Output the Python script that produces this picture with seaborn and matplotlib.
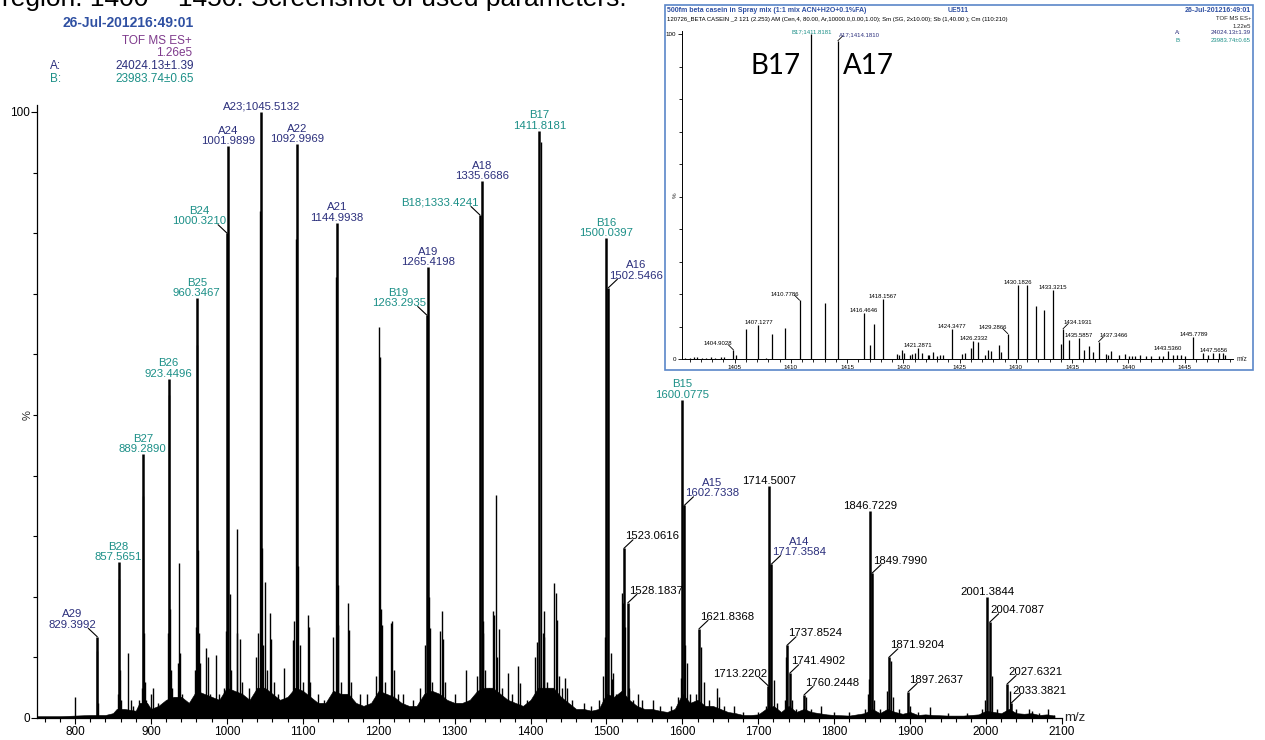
import numpy as np
import pandas as pd
import matplotlib
matplotlib.use('Agg')
import matplotlib.pyplot as plt
import seaborn as sns
from matplotlib.patches import Rectangle
from matplotlib.ticker import MultipleLocator

# ---------------- main spectrum (m/z, relative intensity %) ----------------
main_mz = [800.0, 828.9, 830.4, 856.9, 858.5, 859.5, 860.6, 870.0, 873.5, 876.0,
           885.0, 888.4, 890.2, 891.1, 892.2, 894.0, 900.3, 903.0, 910.0, 918.0,
           922.6, 924.3, 925.2, 926.2, 927.3, 935.2, 937.4, 939.0, 941.0, 943.5,
           957.5, 959.3, 961.2, 962.5, 963.5, 965.0, 973.0, 974.7, 978.0, 986.0,
           990.0, 996.0, 999.0, 1004.2, 1006.0, 1013.0, 1014.0, 1018.0, 1020.0, 1029.0,
           1039.0, 1041.5, 1043.3, 1046.6, 1048.0, 1050.0, 1053.0, 1057.0, 1058.5, 1062.0,
           1068.0, 1075.0, 1080.0, 1087.0, 1089.0, 1090.8, 1094.0, 1096.0, 1100.0, 1106.5,
           1108.0, 1110.0, 1120.0, 1128.0, 1140.0, 1143.2, 1146.0, 1147.0, 1150.0, 1159.0,
           1161.0, 1164.0, 1175.0, 1184.0, 1197.0, 1200.3, 1201.3, 1202.5, 1205.0, 1208.0,
           1216.0, 1218.0, 1220.0, 1225.0, 1232.0, 1245.0, 1255.0, 1261.0, 1266.5, 1267.6,
           1270.0, 1275.0, 1281.0, 1283.0, 1285.0, 1288.0, 1300.0, 1315.0, 1325.0, 1330.0,
           1336.8, 1338.0, 1340.0, 1345.0, 1351.0, 1352.3, 1355.0, 1356.5, 1359.0, 1362.0,
           1371.0, 1375.0, 1383.0, 1386.0, 1395.0, 1406.0, 1409.0, 1414.2, 1416.5, 1417.3,
           1418.2, 1422.0, 1430.5, 1433.0, 1435.0, 1438.0, 1441.0, 1446.0, 1447.5, 1455.0,
           1470.0, 1480.0, 1490.0, 1496.0, 1498.5, 1505.5, 1507.3, 1509.0, 1512.0, 1518.0,
           1520.0, 1521.2, 1525.0, 1530.0, 1535.0, 1541.0, 1547.0, 1561.0, 1570.0, 1585.0,
           1594.0, 1598.2, 1604.0, 1606.0, 1610.0, 1618.0, 1624.0, 1628.0, 1635.0, 1645.0,
           1648.0, 1655.0, 1668.0, 1680.0, 1700.0, 1710.0, 1720.5, 1725.0, 1735.0, 1736.6,
           1745.0, 1750.0, 1763.0, 1770.0, 1783.0, 1800.0, 1820.0, 1840.0, 1844.0, 1845.2,
           1853.0, 1860.0, 1869.8, 1874.5, 1877.0, 1885.0, 1900.0, 1910.0, 1925.6, 1950.0,
           1975.0, 1995.0, 1998.0, 2007.5, 2015.0, 2031.0, 2040.0, 2056.0, 2060.0, 2070.0,
           2082.0, 2090.0]
main_int = [3.5, 11.0, 2.5, 4.0, 23.0, 8.0, 3.0, 10.7, 3.0, 2.0,
            3.0, 5.0, 36.6, 14.0, 6.0, 3.0, 4.0, 5.0, 2.5, 2.5,
            14.0, 53.3, 18.0, 8.0, 5.0, 9.0, 25.6, 10.8, 4.0, 3.0,
            8.0, 15.0, 61.5, 27.7, 14.0, 9.0, 11.5, 10.0, 4.0, 10.4,
            4.0, 5.0, 14.4, 20.4, 8.0, 14.0, 31.2, 13.0, 6.0, 5.0,
            10.0, 14.0, 83.7, 28.0, 12.0, 22.4, 8.0, 17.3, 13.0, 6.0,
            4.0, 8.3, 3.0, 12.8, 16.0, 79.0, 25.0, 12.0, 6.0, 17.0,
            15.0, 6.0, 4.0, 3.0, 13.4, 72.8, 22.0, 15.3, 6.0, 19.0,
            14.5, 6.0, 4.0, 4.0, 7.0, 64.5, 59.6, 18.0, 15.4, 6.0,
            15.6, 16.0, 8.0, 4.0, 4.0, 3.0, 5.0, 12.0, 20.0, 14.8,
            6.0, 4.0, 14.3, 17.6, 13.0, 6.0, 4.0, 8.0, 3.0, 7.0,
            14.0, 16.0, 8.0, 5.0, 17.7, 17.0, 36.8, 10.0, 14.7, 5.0,
            7.5, 4.0, 8.5, 5.7, 3.0, 10.0, 12.5, 95.0, 14.0, 13.3,
            17.6, 6.0, 22.3, 20.6, 16.2, 7.0, 5.0, 6.6, 5.0, 3.0,
            2.5, 2.0, 3.0, 7.0, 13.4, 10.7, 6.5, 7.5, 4.0, 4.0,
            20.6, 19.0, 15.0, 5.0, 3.0, 4.0, 3.0, 3.0, 2.0, 2.0,
            3.5, 6.6, 12.0, 9.0, 4.0, 4.0, 11.7, 6.0, 3.0, 5.0,
            3.5, 2.0, 2.0, 1.0, 1.0, 2.0, 6.3, 2.5, 3.0, 10.0,
            3.0, 1.5, 3.5, 1.5, 2.0, 1.0, 1.0, 1.5, 4.0, 6.5,
            3.0, 1.5, 4.4, 9.4, 3.5, 1.5, 2.0, 1.0, 1.8, 0.8,
            0.8, 1.5, 3.0, 7.0, 1.5, 4.5, 1.5, 1.5, 1.2, 0.8,
            1.5, 0.5]

# dense low-level background (envelope)
grass_mz = [750, 780, 800, 820, 840, 850, 855, 865, 880, 885, 895, 900, 910, 920, 930,
            940, 950, 960, 970, 980, 990, 1000, 1010, 1020, 1030, 1040, 1050, 1060, 1070,
            1080, 1090, 1100, 1110, 1120, 1130, 1140, 1150, 1160, 1170, 1180, 1190, 1200,
            1210, 1220, 1230, 1240, 1250, 1260, 1270, 1280, 1290, 1300, 1310, 1320, 1330,
            1340, 1350, 1360, 1370, 1380, 1390, 1400, 1410, 1420, 1430, 1440, 1450, 1460,
            1470, 1480, 1490, 1500, 1510, 1520, 1530, 1540, 1550, 1560, 1570, 1580, 1590,
            1600, 1610, 1620, 1630, 1640, 1650, 1660, 1670, 1680, 1690, 1700, 1710, 1720,
            1730, 1740, 1750, 1760, 1770, 1780, 1790, 1800, 1820, 1840, 1850, 1860, 1870,
            1880, 1890, 1900, 1910, 1920, 1930, 1950, 1970, 1990, 2000, 2010, 2020, 2030,
            2040, 2050, 2060, 2070, 2080, 2090]
grass_int = [0.3, 0.3, 0.4, 0.5, 0.5, 0.8, 1.5, 1.5, 1.2, 2.5, 2.5, 1.5, 2.0, 3.0, 3.5,
             3.5, 2.5, 4.5, 4.0, 3.5, 3.0, 5.0, 4.5, 4.0, 3.0, 5.0, 5.0, 4.0, 3.0,
             3.5, 5.0, 4.5, 3.5, 2.5, 2.5, 4.5, 4.0, 4.0, 2.5, 2.0, 2.5, 4.5,
             4.0, 3.5, 2.5, 2.0, 2.0, 4.0, 4.5, 4.0, 3.0, 2.5, 2.5, 3.0, 4.5,
             5.0, 5.0, 4.0, 3.0, 2.5, 2.0, 3.0, 5.0, 5.0, 5.0, 3.5, 2.5, 1.5,
             1.5, 1.2, 1.5, 4.0, 3.5, 4.5, 3.0, 2.0, 1.5, 1.5, 1.2, 1.0, 1.5,
             4.0, 2.5, 3.0, 2.0, 2.0, 1.5, 1.0, 0.8, 0.5, 0.5, 0.6, 1.5, 2.0,
             1.0, 2.0, 1.0, 1.5, 1.0, 0.8, 0.6, 0.5, 0.4, 0.8, 1.5, 0.8, 1.5,
             1.0, 0.7, 1.0, 0.5, 0.6, 0.5, 0.4, 0.4, 0.6, 1.2, 1.0, 0.8, 1.5,
             0.8, 0.7, 0.8, 0.5, 0.6, 0.4]

# labelled peaks of the main spectrum
lab_mz = [829.3992, 857.5651, 889.2890, 923.4496, 960.3467, 1000.3210, 1001.9899,
          1045.5132, 1092.9969, 1144.9938, 1263.2935, 1265.4198, 1333.4241, 1335.6686,
          1411.8181, 1500.0397, 1502.5466, 1523.0616, 1528.1837, 1600.0775, 1602.7338,
          1621.8368, 1713.2202, 1714.5007, 1717.3584, 1737.8524, 1741.4902, 1760.2448,
          1846.7229, 1849.7990, 1871.9204, 1897.2637, 2001.3844, 2004.7087, 2027.6321,
          2033.3821]
lab_int = [13.4, 25.7, 43.5, 56.0, 69.3, 80.0, 94.4,
           100.0, 94.7, 81.7, 66.5, 74.4, 83.0, 88.6,
           96.9, 79.2, 71.0, 28.0, 19.0, 52.5, 35.1,
           14.7, 5.3, 38.3, 25.4, 12.0, 7.4, 3.8,
           34.2, 23.9, 10.0, 4.3, 20.0, 15.8, 5.6,
           2.5]
lab_text = ['A29\n829.3992', 'B28\n857.5651', 'B27\n889.2890', 'B26\n923.4496',
            'B25\n960.3467', 'B24\n1000.3210', 'A24\n1001.9899', 'A23;1045.5132',
            'A22\n1092.9969', 'A21\n1144.9938', 'B19\n1263.2935', 'A19\n1265.4198',
            'B18;1333.4241', 'A18\n1335.6686', 'B17\n1411.8181', 'B16\n1500.0397',
            'A16\n1502.5466', '1523.0616', '1528.1837', 'B15\n1600.0775',
            'A15\n1602.7338', '1621.8368', '1713.2202', '1714.5007', 'A14\n1717.3584',
            '1737.8524', '1741.4902', '1760.2448', '1846.7229', '1849.7990',
            '1871.9204', '1897.2637', '2001.3844', '2004.7087', '2027.6321', '2033.3821']
lab_side = ['left', 'up', 'up', 'up', 'up', 'left', 'up', 'up', 'up', 'up', 'left', 'up',
            'left', 'up', 'up', 'up', 'right', 'right', 'right', 'up', 'right', 'right',
            'left', 'up', 'right', 'right', 'right', 'right', 'up', 'right', 'right',
            'right', 'up', 'right', 'right', 'right']

# ---------------- inset: zoom 1400-1450 ----------------
ins_mz = [1400.6, 1401.0, 1401.4, 1401.7, 1402.1, 1402.5, 1402.9, 1403.3, 1403.8, 1404.1,
          1404.9028, 1405.17, 1406.0, 1407.1277, 1407.8, 1408.37, 1409.47, 1410.7786,
          1411.8181, 1413.08, 1414.1810, 1416.4646, 1417.03, 1417.37, 1418.1567,
          1419.4, 1419.6, 1419.9, 1420.1, 1420.57, 1420.8, 1421.0, 1421.2871, 1421.7,
          1422.2, 1422.3, 1422.66, 1423.0, 1423.3, 1423.56, 1424.3477, 1425.24, 1425.48,
          1426.0, 1426.2332, 1426.6, 1427.23, 1427.5, 1427.78, 1428.54, 1428.7,
          1429.2866, 1430.1826, 1431.01, 1431.8, 1432.46, 1433.3215, 1434.04, 1434.1931,
          1434.76, 1435.5857, 1436.1, 1436.5, 1436.86, 1437.3466, 1437.99, 1438.23,
          1438.47, 1439.19, 1439.7, 1440.05, 1440.3, 1440.57, 1441.0, 1441.6, 1442.0,
          1442.7, 1443.04, 1443.5360, 1444.0, 1444.35, 1444.66, 1445.0, 1445.7789,
          1446.65, 1447.06, 1447.5656, 1448.09, 1448.37, 1448.57]
ins_int = [0.4, 0.3, 0.6, 0.5, 0.4, 0.4, 0.5, 0.4, 0.5, 0.6,
           2.8, 1.3, 9.3, 10.6, 0.3, 7.8, 9.5, 18.1,
           100.0, 17.1, 98.0, 14.1, 4.3, 10.8, 18.6,
           1.6, 1.1, 2.8, 2.0, 1.3, 1.6, 1.8, 3.5, 1.8,
           1.2, 1.3, 2.1, 1.0, 1.2, 1.2, 9.3, 1.6, 2.0,
           3.3, 5.6, 5.3, 1.3, 2.8, 2.6, 4.2, 2.1,
           7.8, 22.7, 22.7, 16.4, 15.1, 21.1, 4.5, 9.3,
           5.8, 6.5, 2.8, 4.1, 2.3, 5.3, 1.6, 1.3,
           2.5, 1.2, 1.6, 0.8, 0.8, 1.0, 1.3, 1.0, 0.8,
           1.0, 0.8, 2.5, 1.3, 1.3, 1.3, 0.8, 6.8,
           1.8, 1.3, 2.0, 2.0, 1.8, 1.3]
ins_lab_mz = [1404.9028, 1407.1277, 1410.7786, 1411.8181, 1414.1810, 1416.4646, 1418.1567,
              1421.2871, 1424.3477, 1426.2332, 1429.2866, 1430.1826, 1433.3215, 1434.1931,
              1435.5857, 1437.3466, 1443.5360, 1445.7789, 1447.5656]
ins_lab_text = ['1404.9028', '1407.1277', '1410.7786', 'B17;1411.8181', 'A17;1414.1810',
                '1416.4646', '1418.1567', '1421.2871', '1424.3477', '1426.2332', '1429.2866',
                '1430.1826', '1433.3215', '1434.1931', '1435.5857', '1437.3466', '1443.5360',
                '1445.7789', '1447.5656']
ins_lab_side = ['left', 'up', 'left', 'up', 'right', 'up', 'up', 'up', 'up', 'up', 'left',
                'up', 'up', 'right', 'up', 'right', 'up', 'up', 'up']

NAVY = '#2B2F7C'
TEAL = '#1B8F87'
BLUE = '#2F50A2'
PURPLE = '#7E3A8C'
PX = 72 / 100  # points per pixel at dpi 100


def fx(p):
    return p / 1265


def fy(p):
    return 1 - p / 740


def ion_color(text):
    if text.startswith('A'):
        return NAVY
    if text.startswith('B'):
        return TEAL
    return 'black'


def label_peaks(ax, mzs, hs, texts, sides, fs, lead, lw):
    for mz, h, t, s in zip(mzs, hs, texts, sides):
        c = ion_color(t)
        if s == 'up':
            ax.annotate(t, (mz, h), xytext=(0, 0), textcoords='offset points',
                        ha='center', va='bottom', fontsize=fs, color=c,
                        linespacing=1.05, annotation_clip=False)
        else:
            sg = 1 if s == 'right' else -1
            ax.annotate('', (mz, h), xytext=(sg * lead[0] * PX, lead[1] * PX),
                        textcoords='offset points', annotation_clip=False,
                        arrowprops=dict(arrowstyle='-', color='black', lw=lw,
                                        shrinkA=0, shrinkB=0))
            ax.annotate(t, (mz, h), xytext=(sg * 1 * PX, (lead[1] - 1.5) * PX),
                        textcoords='offset points', ha='left' if sg > 0 else 'right',
                        va='bottom', multialignment='center', fontsize=fs, color=c,
                        linespacing=1.05, annotation_clip=False)


sns.set_theme(style='ticks')
plt.rcParams['font.family'] = ['Liberation Sans', 'DejaVu Sans']

fig = plt.figure(figsize=(12.65, 7.4), dpi=100)
fig.patch.set_facecolor('white')

# ---- main axes ----
ax = fig.add_axes([fx(37), 1 - 718 / 740, fx(1062) - fx(37), (718 - 104.7) / 740])
ax.set_facecolor('none')
ax.set_zorder(1)
spec = pd.DataFrame({'mz': main_mz, 'int': main_int})
ax.fill_between(grass_mz, 0, grass_int, color='black', lw=0.4)
ax.vlines(spec['mz'], 0, spec['int'], color='black', lw=1.0)
ax.vlines(lab_mz, 0, lab_int, color='black', lw=1.8)
ax.set_xlim(750, 2100)
ax.set_ylim(0, 101.2)
sns.despine(ax=ax)
for sp in ['left', 'bottom']:
    ax.spines[sp].set_color('black')
    ax.spines[sp].set_linewidth(0.9)
ax.set_xticks(list(range(800, 2101, 100)))
ax.xaxis.set_minor_locator(MultipleLocator(20))
ax.set_yticks([0, 100])
ax.yaxis.set_minor_locator(MultipleLocator(10))
ax.tick_params(axis='both', which='major', direction='out', length=4, width=0.8,
               labelsize=8.5, color='black', labelcolor='black')
ax.tick_params(axis='both', which='minor', direction='out', length=3, width=0.8,
               color='black')
ax.tick_params(axis='x', pad=2)
ax.tick_params(axis='y', pad=1)
ax.text(1.002, 0.0, 'm/z', transform=ax.transAxes, ha='left', va='center', fontsize=9.5)
fig.text(fx(28), fy(415), '%', rotation=90, ha='center', va='center', fontsize=8)
label_peaks(ax, lab_mz, lab_int, lab_text, lab_side, 8.2, (9, 8.5), 0.8)

# ---- header of the main spectrum ----
fig.text(fx(194), fy(23), '26-Jul-201216:49:01', ha='right', va='center', fontsize=10,
         weight='bold', color=BLUE)
fig.text(fx(192), fy(41), 'TOF MS ES+', ha='right', va='center', fontsize=8.5, color=PURPLE)
fig.text(fx(192), fy(53), '1.26e5', ha='right', va='center', fontsize=8.5, color=PURPLE)
fig.text(fx(50), fy(66), 'A:', ha='left', va='center', fontsize=8.5, color=NAVY)
fig.text(fx(194), fy(66), '24024.13\u00b11.39', ha='right', va='center', fontsize=8.5, color=NAVY)
fig.text(fx(50), fy(79), 'B:', ha='left', va='center', fontsize=8.5, color=TEAL)
fig.text(fx(194), fy(79), '23983.74\u00b10.65', ha='right', va='center', fontsize=8.5, color=TEAL)

# cut-off caption line at the very top
fig.text(fx(2), fy(6), 'region: 1400 \u2013 1450. Screenshot of used parameters.',
         ha='left', va='baseline', fontsize=19, color='black')

# ---- inset ----
frame = Rectangle((fx(665), fy(370)), fx(1253) - fx(665), (370 - 5) / 740,
                  transform=fig.transFigure, facecolor='white',
                  edgecolor='#5A86C8', lw=1.2, zorder=2)
fig.add_artist(frame)
ins = fig.add_axes([fx(682), 1 - 359 / 740, fx(1233) - fx(682), (359 - 31) / 740])
ins.set_facecolor('none')
ins.set_zorder(3)
ins.vlines(ins_mz, 0, ins_int, color='black', lw=0.9)
ins.set_xlim(1400.33, 1449.3)
ins.set_ylim(0, 101)
sns.despine(ax=ins)
for sp in ['left', 'bottom']:
    ins.spines[sp].set_color('black')
    ins.spines[sp].set_linewidth(0.7)
ins.set_xticks([1405, 1410, 1415, 1420, 1425, 1430, 1435, 1440, 1445])
ins.xaxis.set_minor_locator(MultipleLocator(1))
ins.set_yticks([0, 100])
ins.yaxis.set_minor_locator(MultipleLocator(10))
ins.tick_params(axis='both', which='major', direction='out', length=3, width=0.6,
                labelsize=4.5, pad=1, color='black', labelcolor='black')
ins.tick_params(axis='both', which='minor', direction='out', length=2, width=0.6,
                color='black')
ins.text(1.006, 0.0, 'm/z', transform=ins.transAxes, ha='left', va='center', fontsize=4.8)
ins.text(-0.012, 0.5, '%', transform=ins.transAxes, rotation=90, ha='center',
         va='center', fontsize=4.5)
ins_lab_int = [ins_int[ins_mz.index(m)] for m in ins_lab_mz]
label_peaks(ins, ins_lab_mz, ins_lab_int, ins_lab_text, ins_lab_side, 4.3, (5, 5), 0.6)
ins.text(0.17, 0.893, 'B17', transform=ins.transAxes, ha='center', va='center',
         fontsize=20, family=['Lato', 'DejaVu Sans'], color='black')
ins.text(0.338, 0.893, 'A17', transform=ins.transAxes, ha='center', va='center',
         fontsize=20, family=['Lato', 'DejaVu Sans'], color='black')

hdr = dict(ha='left', va='center', zorder=4)
fig.text(fx(667), fy(10), '500fm beta casein in Spray mix (1:1 mix ACN+H2O+0.1%FA)',
         fontsize=5, weight='bold', color=BLUE, **hdr)
fig.text(fx(948), fy(10), 'UE511', fontsize=5, weight='bold', color=BLUE, **hdr)
fig.text(fx(667), fy(19), '120726_BETA CASEIN _2 121 (2.253) AM (Cen,4, 80.00, '
         'Ar,10000.0,0.00,1.00); Sm (SG, 2x10.00); Sb (1,40.00 ); Cm (110:210)',
         fontsize=4.3, color='black', **hdr)
fig.text(fx(1175), fy(33), 'A:', fontsize=4.3, color=NAVY, **hdr)
fig.text(fx(1175), fy(40), 'B:', fontsize=4.3, color=TEAL, **hdr)
hdr_r = dict(ha='right', va='center', zorder=4)
fig.text(fx(1251), fy(10), '26-Jul-201216:49:01', fontsize=5, weight='bold', color=BLUE, **hdr_r)
fig.text(fx(1251), fy(19), 'TOF MS ES+', fontsize=4.3, **hdr_r)
fig.text(fx(1251), fy(26), '1.22e5', fontsize=4.3, **hdr_r)
fig.text(fx(1251), fy(33), '24024.13\u00b11.39', fontsize=4.3, color=NAVY, **hdr_r)
fig.text(fx(1251), fy(40), '23983.74\u00b10.65', fontsize=4.3, color=TEAL, **hdr_r)

fig.savefig('out.png', dpi=100, facecolor='white')
